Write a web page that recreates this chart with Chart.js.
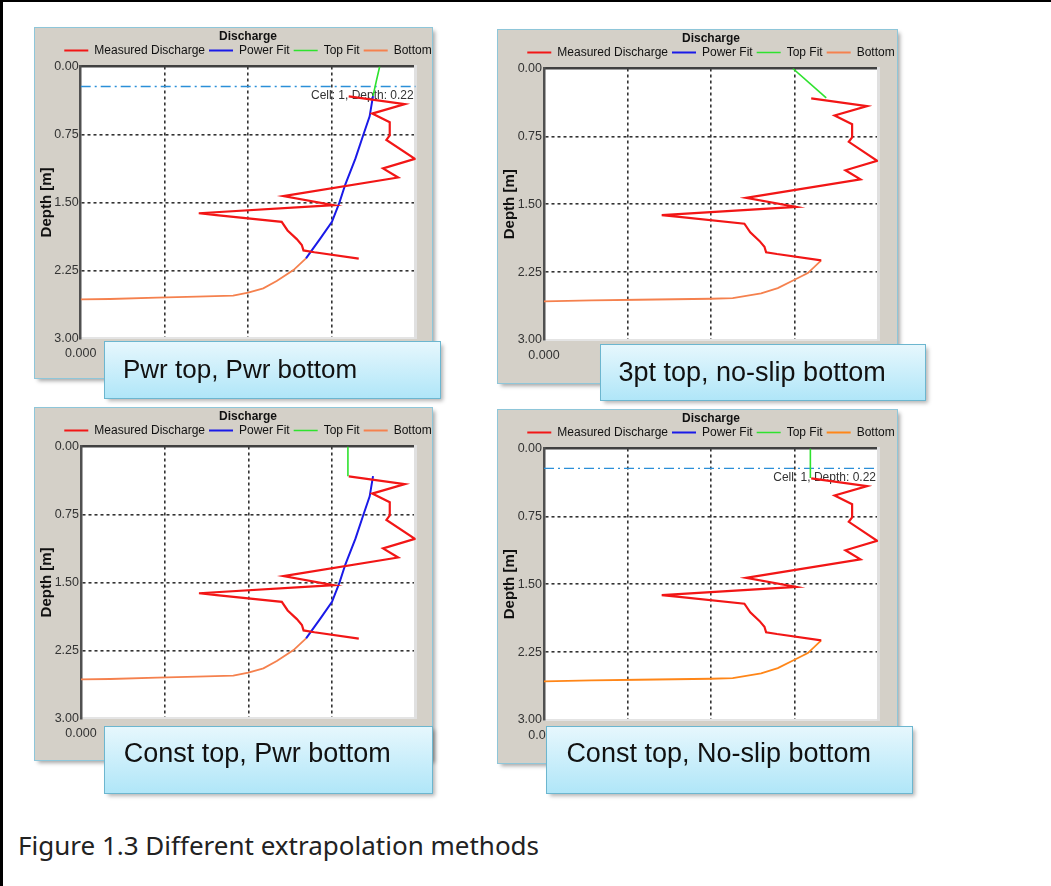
<!DOCTYPE html>
<html><head><meta charset="utf-8">
<script src="https://cdn.jsdelivr.net/npm/chart.js@4.4.0/dist/chart.umd.min.js"></script>
<style>
html,body{margin:0;padding:0;background:#fff;}
body{width:1051px;height:886px;position:relative;overflow:hidden;font-family:"Liberation Sans",Arial,sans-serif;}
#frameTop{position:absolute;left:0;top:0;width:1051px;height:2px;background:#000;}
#frameLeft{position:absolute;left:0;top:0;width:3px;height:886px;background:#000;}
.panel{position:absolute;background:#d4d0c8;overflow:hidden;box-shadow:0 0 0 1px #8ec6d9, 3px 3px 4px rgba(0,0,0,0.35);}
.panel canvas{position:absolute;left:0;top:0;}
.cap{position:absolute;background:linear-gradient(#e6f7fd,#b0e6f8);box-shadow:0 0 0 1px #6cb6cf, 3px 3px 4px rgba(0,0,0,0.3);}
.cap span{position:absolute;white-space:nowrap;color:#111;line-height:1;font-family:"Liberation Sans",Arial,sans-serif;}
#fig{position:absolute;left:18px;top:832px;font-family:"Noto Sans",sans-serif;font-size:26px;line-height:26px;color:#222;white-space:nowrap;}
</style></head>
<body>
<div id="frameTop"></div><div id="frameLeft"></div>
<div id="root"></div>
<div id="fig">Figure 1.3 Different extrapolation methods</div>
<script>
// ---------- data ----------
const chartTitle = "Discharge";
const seriesNames = ["Measured Discharge", "Power Fit", "Top Fit", "Bottom"];
const captions = ["Pwr top, Pwr bottom", "3pt top, no-slip bottom", "Const top, Pwr bottom", "Const top, No-slip bottom"];
const yAxisTitle = "Depth [m]";
const yTicks = [0, 0.75, 1.5, 2.25, 3.0];
const xTicks = [0, 0.1, 0.2, 0.3, 0.4];
const cellNumber = 1;
const cellDepth = 0.22;

const measuredQ     = [0.320, 0.387, 0.348, 0.369, 0.369, 0.365, 0.399, 0.361, 0.379, 0.242, 0.302, 0.141, 0.162, 0.240, 0.247, 0.258, 0.264, 0.266, 0.279, 0.332];
const measuredDepth = [0.33, 0.415, 0.52, 0.615, 0.76, 0.81, 1.02, 1.125, 1.225, 1.43, 1.53, 1.62, 1.64, 1.715, 1.81, 1.905, 1.97, 2.03, 2.05, 2.12];

const powerFitQ     = [0.349, 0.345, 0.3375, 0.328, 0.316, 0.309, 0.300, 0.286, 0.269];
const powerFitDepth = [0.327, 0.55, 0.753, 1.017, 1.30, 1.50, 1.714, 1.90, 2.118];

const pwrTopQ     = [0.357, 0.353, 0.349];
const pwrTopDepth = [0, 0.16, 0.327];
const threePtTopQ     = [0.298, 0.338];
const threePtTopDepth = [0, 0.324];
const constTopQ     = [0.319, 0.319];
const constTopDepth = [0, 0.327];

const pwrBottomQ     = [0.269, 0.254, 0.234, 0.218, 0.200, 0.182, 0.1385, 0.091, 0.035, 0];
const pwrBottomDepth = [2.118, 2.247, 2.368, 2.449, 2.496, 2.529, 2.540, 2.551, 2.566, 2.570];
const noSlipBottomQ     = [0.332, 0.316, 0.300, 0.280, 0.260, 0.226, 0.200, 0.113, 0.057, 0];
const noSlipBottomDepth = [2.12, 2.261, 2.335, 2.426, 2.485, 2.537, 2.544, 2.555, 2.562, 2.574];

// ---------- panel set-up (which series per panel) ----------
const panelSeries = [
  {top:[pwrTopQ,pwrTopDepth], bottom:[pwrBottomQ,pwrBottomDepth], power:true,  cell:true},
  {top:[threePtTopQ,threePtTopDepth], bottom:[noSlipBottomQ,noSlipBottomDepth], power:false, cell:false},
  {top:[constTopQ,constTopDepth], bottom:[pwrBottomQ,pwrBottomDepth], power:true,  cell:false},
  {top:[constTopQ,constTopDepth], bottom:[noSlipBottomQ,noSlipBottomDepth], power:false, cell:true}
];

// ---------- layout / style ----------
const FONT = '"Liberation Sans", Arial, sans-serif';
Chart.defaults.font.family = FONT;
const COL = {red:'#f21616', blue:'#1a1ae8', green:'#2ee22e', orange:'#f5814e', orange2:'#ff8618', cell:'#2b8fd8'};
const layout = [
  {box:[35,28,397,350],    plot:[45.7,310.3,380.7], cap:[105,342,335,56], txt:[18,14.3,26], orange:COL.orange},
  {box:[498.3,30,398.4,353], plot:[46,310,380],     cap:[601,345,324,55], txt:[17.5,14.4,27], orange:COL.orange},
  {box:[35,407.7,397,352.3], plot:[46,310.6,380.7], cap:[105,726.7,327,66], txt:[18.7,13.7,27], orange:COL.orange},
  {box:[498.3,410,398.4,353], plot:[46,310,380],    cap:[546.7,726.7,365,66], txt:[19.7,13.7,27], orange:COL.orange2}
];
const CANVAS_W = 426;

const pts = (xs, ys) => xs.map((x,i)=>({x, y: ys[i]}));

const plotBg = {id:'plotBg', beforeDraw(chart){const {ctx,chartArea:a}=chart; ctx.save(); ctx.fillStyle='#fff'; ctx.fillRect(a.left,a.top,a.right-a.left,a.bottom-a.top); ctx.restore();}};
const cellLabel = {id:'cellLabel', beforeDatasetsDraw(chart, args, opts){
  if(!opts.show) return;
  const {ctx, chartArea, scales} = chart;
  const y = scales.y.getPixelForValue(cellDepth);
  ctx.save(); ctx.font = '12px ' + FONT; ctx.fillStyle = '#333'; ctx.textAlign='right'; ctx.textBaseline='middle';
  ctx.fillText('Cell: ' + cellNumber + ', Depth: ' + cellDepth.toFixed(2), chartArea.right - 2, y + 9);
  ctx.restore();
}};

const root = document.getElementById('root');
panelSeries.forEach((ps, k) => {
  const L = layout[k];
  const box = document.createElement('div');
  box.className = 'panel';
  Object.assign(box.style, {left:L.box[0]+'px', top:L.box[1]+'px', width:L.box[2]+'px', height:L.box[3]+'px'});
  const cv = document.createElement('canvas');
  cv.width = CANVAS_W; cv.height = L.box[3];
  cv.style.width = CANVAS_W+'px'; cv.style.height = L.box[3]+'px';
  box.appendChild(cv); root.appendChild(box);

  const cap = document.createElement('div');
  cap.className = 'cap';
  Object.assign(cap.style, {left:L.cap[0]+'px', top:L.cap[1]+'px', width:L.cap[2]+'px', height:L.cap[3]+'px'});
  const sp = document.createElement('span');
  sp.textContent = captions[k];
  Object.assign(sp.style, {left:L.txt[0]+'px', top:L.txt[1]+'px', fontSize:L.txt[2]+'px'});
  cap.appendChild(sp); root.appendChild(cap);

  const line = (label, data, color, w) => ({label, data, borderColor:color, backgroundColor:color, borderWidth:w,
      pointBorderColor:color, pointBorderWidth:w, showLine:true, pointRadius:0, pointHoverRadius:0, tension:0, fill:false});
  const datasets = [
    line(seriesNames[0], pts(measuredQ, measuredDepth), COL.red, 2.2),
    line(seriesNames[1], ps.power ? pts(powerFitQ, powerFitDepth) : [], COL.blue, 2),
    line(seriesNames[2], pts(ps.top[0], ps.top[1]), COL.green, 1.6),
    line(seriesNames[3], pts(ps.bottom[0], ps.bottom[1]), L.orange, 1.8)
  ];
  if (ps.cell) {
    const c = line('cell', [{x:xTicks[0], y:cellDepth},{x:xTicks[xTicks.length-1], y:cellDepth}], COL.cell, 1.4);
    c.borderDash = [10,4,2,4];
    datasets.push(c);
  }
  const plotL = L.plot[0], plotB = L.plot[1], plotR = L.plot[2];
  const nX = xTicks.length, nY = yTicks.length;
  new Chart(cv, {
    type:'scatter',
    data:{datasets},
    plugins:[plotBg, cellLabel],
    options:{
      responsive:false, animation:false, devicePixelRatio:1,
      layout:{padding:0},
      plugins:{
        tooltip:{enabled:false},
        cellLabel:{show:ps.cell},
        title:{display:true, text:chartTitle, color:'#111', font:{size:12, weight:'bold', family:FONT}, padding:{top:1.8, bottom:-3.7}},
        legend:{display:true, labels:{usePointStyle:true, pointStyle:'line', pointStyleWidth:24, padding:4, color:'#111',
                font:{size:12, family:FONT}, filter: it => it.text !== 'cell'}}
      },
      scales:{
        x:{type:'linear', position:'bottom', min:xTicks[0], max:xTicks[nX-1],
           afterBuildTicks: s => { s.ticks = xTicks.map(v => ({value:v})); },
           afterFit: s => { s.height = L.box[3] - plotB; },
           ticks:{callback: v => v.toFixed(3), padding:8, color:'#333', font:{size:12.5}, maxRotation:0, autoSkip:false},
           grid:{drawTicks:false, lineWidth:1.6, color: c => (c.index===0 || c.index===nX-1) ? 'rgba(0,0,0,0)' : '#333'},
           border:{display:true, color:'#e4e4e4', width:2, dash:[3,3]}},
        x2:{type:'linear', axis:'x', position:'top', display:true, afterFit: s => { s.height = 0; },
            ticks:{display:false}, grid:{display:false}, border:{display:true, color:'#404040', width:2.5}},
        y:{type:'linear', position:'left', reverse:true, min:yTicks[0], max:yTicks[nY-1],
           afterBuildTicks: s => { s.ticks = yTicks.map(v => ({value:v})); },
           afterFit: s => { s.width = plotL; },
           ticks:{callback: v => v.toFixed(2), padding:2, color:'#333', font:{size:12.5}, autoSkip:false},
           grid:{drawTicks:false, lineWidth:1.6, color: c => (c.index===0 || c.index===nY-1) ? 'rgba(0,0,0,0)' : '#333'},
           border:{display:true, color:'#505050', width:2.5, dash:[3,3]},
           title:{display:true, text:yAxisTitle, color:'#111', font:{size:15, weight:'bold', family:FONT}, padding:{top:2.5, bottom:0}}},
        y2:{type:'linear', axis:'y', position:'right', display:true, afterFit: s => { s.width = CANVAS_W - plotR; },
            ticks:{display:false}, grid:{display:false}, border:{display:true, color:'#e0e0e0', width:3}}
      }
    }
  });
});
</script>
</body></html>
